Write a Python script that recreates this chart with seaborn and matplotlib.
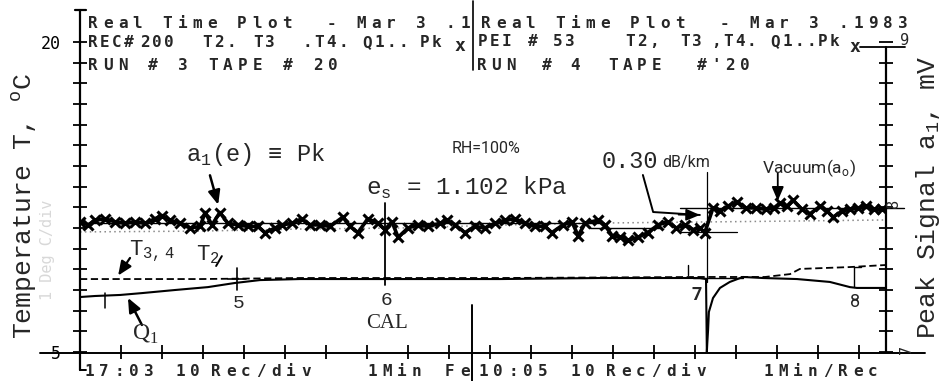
import matplotlib
matplotlib.use("Agg")
import matplotlib.pyplot as plt
from matplotlib.lines import Line2D
import seaborn as sns

# ---------------- data (x in records: 10 Rec/div) ----------------
pk_rec = [0.0, 2.0, 3.7, 6.1, 8.5, 11.0, 13.4, 15.9, 18.3, 20.0,
          22.0, 24.4, 26.8, 29.3, 30.5, 32.2, 34.1, 36.1, 38.5, 41.0,
          43.4, 45.1, 47.6, 49.3, 51.7, 54.1, 56.1, 58.5, 61.0, 64.1,
          65.9, 67.8, 70.2, 72.7, 74.4, 76.1, 77.6, 80.0, 82.4, 84.9,
          87.8, 89.5, 91.5, 93.9, 96.3, 98.8, 101.2, 103.7, 106.1, 108.5,
          111.0, 113.4, 115.1, 117.8, 120.0, 121.5, 123.2, 126.3, 128.0, 129.8,
          131.7, 133.7, 136.1, 138.5, 141.0, 143.4, 145.4, 147.6, 149.5, 151.2,
          152.4, 154.4, 156.1, 158.0, 160.2, 162.4, 164.9, 167.3, 169.3, 170.7,
          172.4, 173.9, 176.1, 178.0, 180.5, 182.2, 183.7, 185.9, 187.8, 189.8,
          191.7, 193.7, 195.6]
pk_mv = [7.84, 7.82, 7.85, 7.86, 7.84, 7.83, 7.84, 7.83, 7.86, 7.88,
         7.85, 7.83, 7.80, 7.81, 7.90, 7.82, 7.90, 7.83, 7.82, 7.81,
         7.81, 7.77, 7.80, 7.82, 7.83, 7.86, 7.82, 7.82, 7.81, 7.87,
         7.81, 7.77, 7.86, 7.83, 7.79, 7.84, 7.74, 7.80, 7.82, 7.81,
         7.83, 7.85, 7.82, 7.77, 7.81, 7.80, 7.83, 7.85, 7.86, 7.83,
         7.81, 7.81, 7.77, 7.82, 7.84, 7.75, 7.83, 7.85, 7.82, 7.75,
         7.74, 7.72, 7.74, 7.77, 7.82, 7.84, 7.80, 7.82, 7.79, 7.80,
         7.77, 7.93, 7.91, 7.94, 7.97, 7.93, 7.93, 7.92, 7.93, 7.96,
         7.94, 7.98, 7.92, 7.89, 7.94, 7.91, 7.87, 7.91, 7.92, 7.93,
         7.94, 7.92, 7.92]

t2_rec = [0.0, 29.3, 53.7, 78.0, 102.4, 126.8, 151.2, 175.6, 196.6]
t2_c = [10.81, 10.85, 10.95, 11.00, 11.14, 11.24, 11.29, 11.34, 11.39]

t34_rec = [0.0, 29.3, 53.7, 102.4, 151.2, 167.1, 173.2, 175.6, 187.8, 196.6]
t34_c = [8.53, 8.53, 8.58, 8.58, 8.63, 8.63, 8.77, 9.02, 9.11, 9.21]

q1_rec = [0.0, 3.7, 9.8, 15.1, 23.2, 31.2, 37.8, 43.9, 53.7, 78.0, 102.4,
          126.8, 151.2, 152.7, 152.9, 153.0, 153.2, 153.4, 154.4, 156.1,
          158.5, 161.7, 166.6, 174.9, 182.9, 187.8, 189.5, 196.6]
q1_c = [7.66, 7.71, 7.76, 7.85, 8.00, 8.14, 8.34, 8.48, 8.53, 8.53, 8.53,
        8.58, 8.58, 8.53, 5.00, 5.40, 6.06, 6.94, 7.61, 8.10,
        8.39, 8.63, 8.58, 8.53, 8.39, 8.14, 8.10, 8.10]

pk_mean_rec = [[0.0, 126.8], [124.4, 141.5], [146.3, 201.0]]
pk_mean_mv = [7.83, 7.80, 7.93]

event_rec = [38.3, 74.4, 152.9, 188.8]
event_labels = ["5", "6", "7", "8"]

x_ticks = list(range(0, 200, 10))
temp_ticks = list(range(5, 21))
temp_labels = ["5"] + [""] * 14 + ["20"]

MONO = ["DejaVu Sans Mono"]
TYPE = ["Liberation Mono", "DejaVu Sans Mono"]
SERIF = ["Liberation Serif", "DejaVu Serif"]
SANS = ["Roboto", "DejaVu Sans"]

sns.set_theme(style="white")
plt.rcParams["font.family"] = ["DejaVu Sans"]

W, H = 946, 381
fig = plt.figure(figsize=(W / 100, H / 100), dpi=100)
ax = fig.add_axes([80 / W, 1 - 352 / H, 806 / W, 310 / H])
ax2 = ax.twinx()


def fx(px):
    return px / W


def fy(py):
    return 1 - py / H


# ---------------- series ----------------
sns.lineplot(x=t2_rec, y=t2_c, ax=ax, color="#8a8a8a", lw=1.1,
             linestyle=(0, (1, 2.2)), estimator=None, sort=False)
sns.lineplot(x=t34_rec, y=t34_c, ax=ax, color="black", lw=1.3,
             linestyle=(0, (4, 2)), estimator=None, sort=False)
sns.lineplot(x=q1_rec, y=q1_c, ax=ax, color="black", lw=1.5,
             estimator=None, sort=False)
sns.lineplot(x=pk_rec, y=pk_mv, ax=ax2, color="black", lw=2.6, marker="x",
             markersize=7, markeredgewidth=2.2, markeredgecolor="black",
             estimator=None, sort=False)
for xs, m in zip(pk_mean_rec, pk_mean_mv):
    ax2.plot(xs, [m, m], color="black", lw=1.0, clip_on=False)

ax.set_xlim(0, 196.6)
ax.set_ylim(5, 20)
ax2.set_ylim(7, 9)
for a in (ax, ax2):
    for s in a.spines.values():
        s.set_visible(False)
ax.set_xlabel("")

# frame lines
ax.plot([0, 0], [4.13, 21.55], color="black", lw=1.6, clip_on=False)
ax.plot([-1.2, 1.5], [21.55, 21.55], color="black", lw=1.6, clip_on=False)
ax.plot([0, 1.5], [4.13, 4.13], color="black", lw=1.4, clip_on=False)
ax.plot([196.6, 196.6], [5, 19.76], color="black", lw=1.6, clip_on=False)
ax.plot([-9.8, 206.1], [4.95, 4.95], color="black", lw=1.4, clip_on=False)
ax.plot([190.2, 201.2], [19.76, 19.76], color="black", lw=1.3, clip_on=False)

# ticks
ax.set_xticks(x_ticks)
ax.set_xticklabels([])
ax.set_yticks(temp_ticks)
ax.set_yticklabels(temp_labels, family=MONO, fontsize=12)
ax.tick_params(axis="x", direction="inout", length=10, width=1.3, bottom=True, colors="black")
ax.tick_params(axis="y", direction="inout", length=10, width=1.3, left=True, right=True,
               labelleft=True, pad=9, colors="black")
ax2.set_yticks([])
ax2.tick_params(right=False, labelright=False)

# axis labels
ax.set_ylabel("Temperature T, $^\\mathregular{o}$C", family=TYPE, fontsize=19,
              va="center")
ax.yaxis.set_label_coords(-0.069, 0.47)
ax2.set_ylabel("Peak Signal a$_\\mathregular{1}$, mV", family=TYPE, fontsize=19,
               va="center", rotation=90)
ax2.yaxis.set_label_coords(1.052, 0.5)
fig.text(fx(47), fy(250), "1 Deg C/div", rotation=90, family=MONO, fontsize=11,
         color="#d8d8d8", ha="center", va="center")

# right axis values
fig.text(fx(900), fy(45), "9", family=MONO, fontsize=11, va="baseline")
fig.text(fx(893), fy(203), "8", family=MONO, fontsize=11, rotation=90, ha="center", va="center")
fig.text(fx(906), fy(349), "7", family=MONO, fontsize=11, rotation=90, ha="center", va="center")
fig.text(fx(855), fy(52), "x", family=MONO, fontsize=13, fontweight="bold", ha="center", va="baseline")

# ---------------- event markers ----------------
ax.plot([event_rec[0]] * 2, [8.0, 9.06], color="black", lw=1.2)
ax.plot([36.1, 40.5], [8.53, 8.53], color="black", lw=1.2)
ax.plot([event_rec[1]] * 2, [8.24, 12.21], color="black", lw=1.3)
ax.plot([event_rec[2]] * 2, [8.39, 13.71], color="black", lw=0.9)
ax.plot([146.3, 160.2], [10.81, 10.81], color="black", lw=0.9)
ax.plot([149.5, 161.7], [8.58, 8.58], color="black", lw=1.0)
ax.plot([148.3, 148.3], [8.73, 9.21], color="black", lw=1.0)
ax.plot([event_rec[3]] * 2, [8.14, 9.11], color="black", lw=1.0)
ax.plot([event_rec[3], 190.5], [9.11, 9.11], color="black", lw=1.0)
ax.plot([6.1, 6.1], [7.13, 7.85], color="black", lw=1.1)
ax.plot([95.6, 95.6], [3.6, 7.27], color="black", lw=1.4, clip_on=False)

for r, lab, yb, fam, wt in zip(event_rec, event_labels, [7.13, 7.27, 7.52, 7.18],
                                [TYPE, TYPE, SANS, SANS], ["normal", "normal", "bold", "normal"]):
    ax.text(r + (0.4 if lab in "56" else (-2.6 if lab == "7" else 0.3)), yb, lab,
            family=fam, fontsize=14 if lab in "56" else 13, fontweight=wt,
            ha="center", va="baseline")

# ---------------- annotations ----------------
arrow_kw = dict(arrowstyle="-|>,head_length=0.7,head_width=0.3", color="black", lw=1.8,
                shrinkA=0, shrinkB=0)
ax2.annotate("", xy=(33.7, 7.95), xytext=(31.7, 8.14), arrowprops=arrow_kw)
ax2.plot([137.3, 139.8, 151.2], [8.142, 7.903, 7.884], color="black", lw=1.4)
ax2.annotate("", xy=(151.2, 7.884), xytext=(146.0, 7.886),
             arrowprops=dict(arrow_kw, lw=1.2))
ax2.annotate("", xy=(170.2, 7.975), xytext=(170.2, 8.155),
             arrowprops=dict(arrow_kw, lw=1.3))
ax.annotate("", xy=(9.3, 8.70), xytext=(12.2, 9.55), arrowprops=dict(arrow_kw, lw=1.6))
ax.plot([34.6, 33.2], [9.64, 9.16], color="black", lw=1.4)
ax.annotate("", xy=(11.7, 7.62), xytext=(15.1, 6.31), arrowprops=dict(arrow_kw, lw=1.8))

fig.text(fx(186), fy(161), "a$_\\mathregular{1}$(e) \u2261 Pk", family=TYPE, fontsize=17, va="baseline")
fig.text(fx(452), fy(153), "RH=100%", family=SANS, fontsize=11.5, va="baseline")
fig.text(fx(366), fy(195), "e$_\\mathregular{s}$ = 1.102 kPa", family=TYPE, fontsize=17.5, va="baseline")
fig.text(fx(602), fy(168), "0.30", family=TYPE, fontsize=17, va="baseline")
fig.text(fx(662), fy(167), "dB/km", family=SANS, fontsize=11.5, va="baseline")
fig.text(fx(762), fy(173), "Vacuum(a$_\\mathregular{o}$)", family=SANS, fontsize=12.5, va="baseline")
fig.text(fx(129), fy(255), "T$_\\mathregular{3,4}$", family=TYPE, fontsize=16, va="baseline")
fig.text(fx(196), fy(260), "T$_\\mathregular{2}$", family=TYPE, fontsize=16, va="baseline")
fig.text(fx(132), fy(340), "Q$_\\mathregular{1}$", family=SERIF, fontsize=17, va="baseline")
fig.text(fx(366), fy(328), "CAL", family=SERIF, fontsize=15, va="baseline")

# ---------------- header / footer (dot-matrix plotter text) ----------------
def spaced(s, px, py, pitch, size=11.5):
    for i, ch in enumerate(s):
        if ch.strip():
            fig.text(fx(px + i * pitch), fy(py), ch, family=MONO, fontsize=size,
                     fontweight="bold", ha="left", va="baseline")


spaced("Real Time Plot  - Mar 3 .1", 88, 28, 14.9)
spaced("Real Time Plot  - Mar 3 .1983", 481, 28, 14.9)
for tok, px in [("REC#", 88), ("200", 140), ("T2.", 202), ("T3", 253), (".T4.", 302),
                ("Q1..", 362), ("Pk", 420)]:
    spaced(tok, px, 47, 12)
fig.text(fx(460), fy(51), "x", family=MONO, fontsize=13, fontweight="bold", ha="center", va="baseline")
for tok, px in [("PEI", 478), ("#", 528), ("53", 553), ("T2,", 625), ("T3", 680), (",T4.", 711),
                ("Q1..", 770), ("Pk", 818)]:
    spaced(tok, px, 46, 12)
spaced("RUN # 3 TAPE # 20", 88, 70, 15)
for tok, px in [("RUN", 477), ("#", 542), ("4", 570), ("TAPE", 608), ("#", 697), ("'20", 711)]:
    spaced(tok, px, 70, 14.5)
for tok, px in [("17:03", 84), ("10", 175), ("Rec/div", 211), ("1Min", 367), ("Fe", 445),
                ("10:05", 478), ("10", 570), ("Rec/div", 606), ("1Min/Rec", 763)]:
    spaced(tok, px, 376, 15)
fig.add_artist(Line2D([fx(473), fx(473)], [fy(1), fy(70)], color="black", lw=1.2,
                      transform=fig.transFigure))

fig.savefig("out.png", dpi=100, facecolor="white")
